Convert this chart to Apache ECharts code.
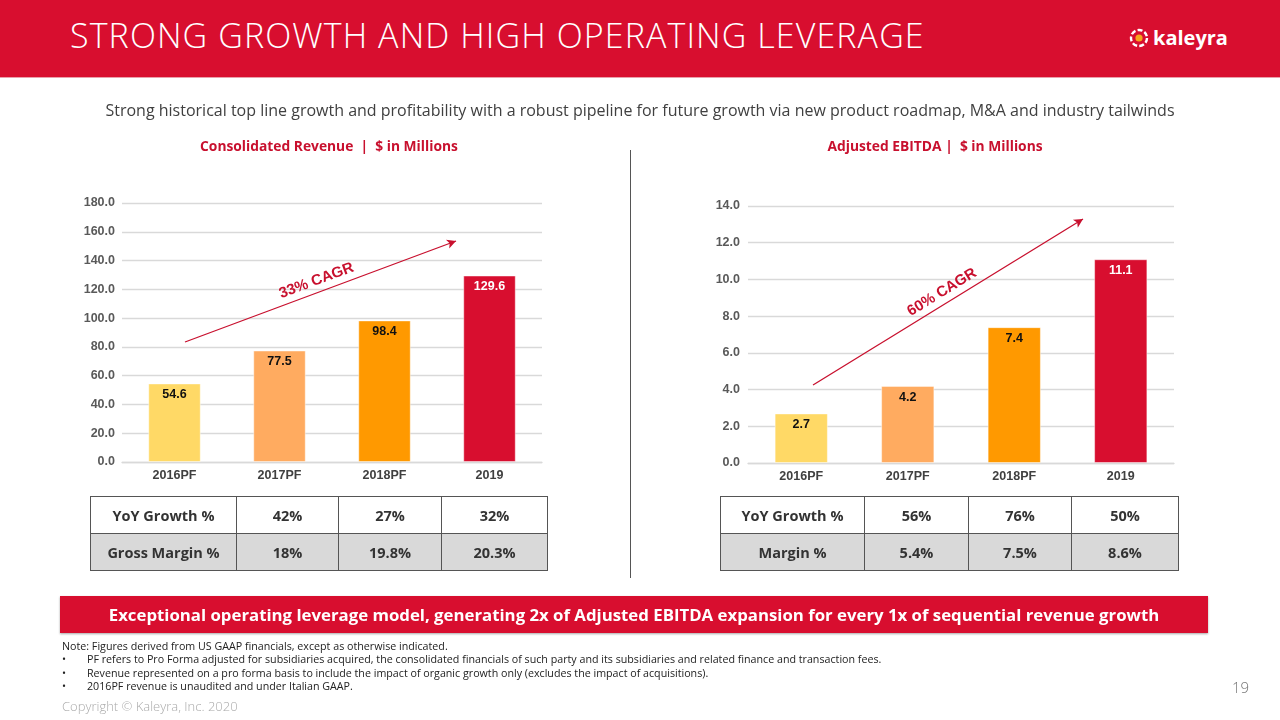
<!DOCTYPE html>
<html>
<head>
<meta charset="utf-8">
<script src="https://cdn.jsdelivr.net/npm/echarts@6/dist/echarts.min.js"></script>
<style>
  html, body { margin:0; padding:0; width:1280px; height:720px; overflow:hidden; background:#fff; font-family:"Open Sans", "Noto Sans", sans-serif; }
  .abs { position:absolute; }
  #header { left:0; top:0; width:1280px; height:77px; background:#D80E2F; border-bottom:1px solid #e9a0ab; }
  #title { left:70px; top:12px; color:#fff; font-family:"Open Sans", sans-serif; font-weight:300; font-size:34px; letter-spacing:1.1px; white-space:nowrap; }
  #logo { left:1128px; top:24px; color:#fff; font-family:"Open Sans", sans-serif; font-weight:700; font-size:20px; white-space:nowrap; display:flex; align-items:center; }
  #sub { left:0; top:99px; width:1280px; text-align:center; color:#404040; font-size:16px; white-space:nowrap; }
  .ctitle { top:136px; color:#C8102E; font-weight:700; font-size:13.8px; white-space:nowrap; text-align:center; width:500px; }
  #divider { left:630px; top:150px; width:1px; height:428px; background:#555; }
  #chart { left:0; top:0; width:1280px; height:720px; }
  table.t { position:absolute; border-collapse:collapse; font-weight:700; font-size:14.5px; color:#333; }
  table.t td { border:1px solid #555; text-align:center; height:36px; padding:0; }
  table.t tr.g td { background:#D9D9D9; }
  #banner { left:60px; top:596px; width:1148px; height:37px; background:#D80E2F; color:#fff; font-weight:700; font-size:16.8px; text-align:center; line-height:37px; box-shadow:0 1px 2px rgba(0,0,0,0.35); white-space:nowrap; }
  #notes { left:62px; top:640px; color:#222; font-size:10.7px; line-height:13.4px; white-space:nowrap; }
  #notes .b { display:flex; }
  #notes .b span.d { width:25px; }
  #page { left:1232px; top:677px; color:#777; font-size:15px; font-weight:300; }
  #copy { left:62px; top:697px; color:#aaa; font-size:13px; font-weight:300; white-space:nowrap; }
</style>
</head>
<body>
<div id="chart" class="abs"></div>
<div id="header" class="abs"></div>
<div id="title" class="abs">STRONG GROWTH AND HIGH OPERATING LEVERAGE</div>
<div id="logo" class="abs">
  <svg width="22" height="22" viewBox="0 0 22 22" style="margin-right:3px">
    <circle cx="11" cy="11" r="8" fill="none" stroke="#fff" stroke-width="2.4" stroke-dasharray="5 2.2"/>
    <circle cx="11" cy="11" r="3.6" fill="#F7A51C"/>
  </svg>kaleyra</div>
<div id="sub" class="abs">Strong historical top line growth and profitability with a robust pipeline for future growth via new product roadmap, M&amp;A and industry tailwinds</div>
<div class="abs ctitle" style="left:79px">Consolidated Revenue&nbsp; |&nbsp; $ in Millions</div>
<div class="abs ctitle" style="left:685px">Adjusted EBITDA |&nbsp; $ in Millions</div>
<div id="divider" class="abs"></div>
<div id="tables"></div>
<div id="banner" class="abs">Exceptional operating leverage model, generating 2x of Adjusted EBITDA expansion for every 1x of sequential revenue growth</div>
<div id="notes" class="abs">
  <div>Note: Figures derived from US GAAP financials, except as otherwise indicated.</div>
  <div class="b"><span class="d">•</span><span>PF refers to Pro Forma adjusted for subsidiaries acquired, the consolidated financials of such party and its subsidiaries and related finance and transaction fees.</span></div>
  <div class="b"><span class="d">•</span><span>Revenue represented on a pro forma basis to include the impact of organic growth only (excludes the impact of acquisitions).</span></div>
  <div class="b"><span class="d">•</span><span>2016PF revenue is unaudited and under Italian GAAP.</span></div>
</div>
<div id="page" class="abs">19</div>
<div id="copy" class="abs">Copyright © Kaleyra, Inc. 2020</div>

<script>
// ---- Data ----
const categories = ['2016PF', '2017PF', '2018PF', '2019'];
const revenue = [54.6, 77.5, 98.4, 129.6];
const ebitda = [2.7, 4.2, 7.4, 11.1];
const barColors = ['#FFD966', '#FFAB60', '#FF9900', '#D80E2F'];
const labelColors = ['#111', '#111', '#111', '#fff'];
const revenueCagr = '33% CAGR';
const ebitdaCagr = '60% CAGR';
const revTableRow1 = ['YoY Growth %', '42%', '27%', '32%'];
const revTableRow2 = ['Gross Margin %', '18%', '19.8%', '20.3%'];
const ebTableRow1 = ['YoY Growth %', '56%', '76%', '50%'];
const ebTableRow2 = ['Margin %', '5.4%', '7.5%', '8.6%'];

// ---- Tables ----
function buildTable(rows, left, widths) {
  const t = document.createElement('table');
  t.className = 't';
  t.style.left = left + 'px';
  t.style.top = '496px';
  rows.forEach((r, ri) => {
    const tr = document.createElement('tr');
    if (ri === 1) tr.className = 'g';
    r.forEach((c, ci) => {
      const td = document.createElement('td');
      td.textContent = c;
      td.style.width = widths[ci] + 'px';
      tr.appendChild(td);
    });
    t.appendChild(tr);
  });
  document.getElementById('tables').appendChild(t);
}
buildTable([revTableRow1, revTableRow2], 90, [145, 101, 102, 105]);
buildTable([ebTableRow1, ebTableRow2], 720, [143, 103, 102, 106]);

// ---- Chart ----
const chart = echarts.init(document.getElementById('chart'), null, { renderer: 'canvas' });
const axisFont = { fontFamily: 'Liberation Sans, Arial, sans-serif', fontWeight: 'bold', fontSize: 12.5 };

function barData(vals) {
  return vals.map((v, i) => ({
    value: v,
    itemStyle: { color: barColors[i], borderColor: 'rgba(255,255,255,0.45)', borderWidth: 1 },
    label: { color: labelColors[i] }
  }));
}
function yAxis(grid, max, interval, margin) {
  return {
    type: 'value', gridIndex: grid, min: 0, max: max, interval: interval,
    axisLine: { show: false }, axisTick: { show: false },
    axisLabel: Object.assign({ color: '#595959', margin: margin, formatter: v => v.toFixed(1) }, axisFont),
    splitLine: { lineStyle: { color: '#D9D9D9', width: 1.3 } }
  };
}
function xAxis(grid) {
  return {
    type: 'category', gridIndex: grid, data: categories,
    axisLine: { lineStyle: { color: '#D9D9D9', width: 1.3 } }, axisTick: { show: false },
    axisLabel: Object.assign({ color: '#404040', margin: 7 }, axisFont)
  };
}
function arrow(p1, p2, text) {
  return {
    silent: true, symbol: ['none', 'arrow'], symbolSize: [7, 9],
    lineStyle: { color: '#C8102E', width: 1.3, type: 'solid' },
    label: { show: true, position: 'middle', formatter: text, color: '#C8102E',
             fontFamily: 'Liberation Sans, Arial, sans-serif', fontWeight: 'bold', fontSize: 15, distance: 4 },
    data: [[{ x: p1[0], y: p1[1] }, { x: p2[0], y: p2[1] }]]
  };
}

chart.setOption({
  animation: false,
  grid: [
    { left: 122, top: 203, width: 420, height: 259 },
    { left: 748, top: 206, width: 426, height: 257 }
  ],
  xAxis: [xAxis(0), xAxis(1)],
  yAxis: [yAxis(0, 180, 20, 7), yAxis(1, 14, 2, 8)],
  series: [
    {
      type: 'bar', xAxisIndex: 0, yAxisIndex: 0, data: barData(revenue), barWidth: '50%',
      label: Object.assign({ show: true, position: 'insideTop', distance: 5, formatter: p => p.value.toFixed(1) }, axisFont),
      markLine: arrow([185, 342], [456, 241], revenueCagr)
    },
    {
      type: 'bar', xAxisIndex: 1, yAxisIndex: 1, data: barData(ebitda), barWidth: '50%',
      label: Object.assign({ show: true, position: 'insideTop', distance: 5, formatter: p => p.value.toFixed(1) }, axisFont),
      markLine: arrow([813, 385], [1083, 219], ebitdaCagr)
    }
  ]
});
</script>
</body>
</html>
